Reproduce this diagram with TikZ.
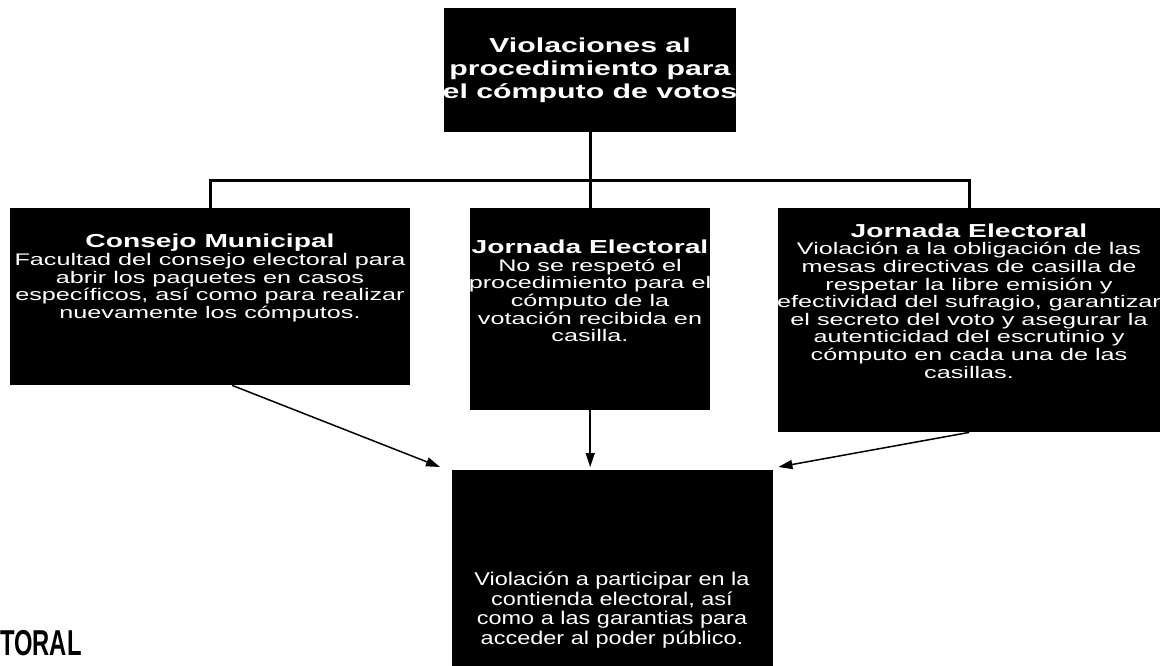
\documentclass[tikz,border=0pt]{standalone}
\usepackage{fontspec}
\setmainfont{Liberation Sans}
\newfontfamily\boxfont[FakeStretch=1.5]{Liberation Sans}
\newfontfamily\narrowfont[FakeStretch=1.27]{Liberation Sans}
\newfontfamily\stampfont[FakeStretch=0.66]{Liberation Sans}
\usetikzlibrary{arrows.meta, positioning, calc}

\begin{document}
\begin{tikzpicture}[
  x=1pt, y=-1pt,
  blackbox/.style={fill=black, inner sep=0pt, anchor=north west},
  headtext/.style={text=white, align=center, inner sep=0pt,
                   font=\boxfont\bfseries\fontsize{20.2}{23}\selectfont},
  bodytext/.style={text=white, align=center, inner sep=0pt,
                   font=\boxfont\fontsize{16.8}{17.6}\selectfont},
  tree/.style={line width=3pt},
  arrow/.style={-{Triangle[length=14pt,width=9pt]}, line width=1.5pt},
]
\useasboundingbox (0,0) rectangle (1164,666);

% boxes
\node[blackbox, minimum width=292pt, minimum height=124pt] (viol) at (444,8) {};
\node[blackbox, minimum width=400pt, minimum height=177pt] (consejo) at (10,208) {};
\node[blackbox, minimum width=240pt, minimum height=202pt] (jornadaA) at (470,208) {};
\node[blackbox, minimum width=382pt, minimum height=224pt] (jornadaB) at (778,208) {};
\node[blackbox, minimum width=321pt, minimum height=196pt] (contienda) at (452,470) {};

% texts
\node[headtext] (violtext) at (590,70) {Violaciones al\\procedimiento para\\el cómputo de votos};
\node[bodytext] (consejotext) at (210,278)
  {{\bfseries\fontsize{18.8}{22}\selectfont Consejo Municipal}\\
   Facultad del consejo electoral para\\abrir los paquetes en casos\\
   específicos, así como para realizar\\nuevamente los cómputos.};
\node[bodytext] (jornadaAtext) at (590,291)
  {{\bfseries\fontsize{18.8}{22}\selectfont Jornada Electoral}\\
   No se respetó el\\procedimiento para el\\cómputo de la\\
   votación recibida en\\casilla.};
\node[bodytext] (jornadaBtext) at (969,301)
  {{\bfseries\fontsize{18.8}{22}\selectfont Jornada Electoral}\\
   Violación a la obligación de las\\mesas directivas de casilla de\\
   respetar la libre emisión y\\efectividad del sufragio, garantizar\\
   el secreto del voto y asegurar la\\autenticidad del escrutinio y\\
   cómputo en cada una de las\\casillas.};
\node[bodytext, font=\narrowfont\fontsize{18.5}{19.5}\selectfont] (contiendatext) at (612,610)
  {Violación a participar en la\\contienda electoral, así\\
   como a las garantias para\\acceder al poder público.};

\node[anchor=south west, inner sep=0pt,
      font=\stampfont\bfseries\fontsize{36}{36}\selectfont] (toral) at (0,656) {TORAL};

% connectors
\coordinate (split) at (590,180);
\draw[tree] (viol.south) -- (jornadaA.north);
\draw[tree] (consejo.north) |- (split) -| (jornadaB.north);
\draw[arrow] ($(consejo.south)+(22,0)$) -- ($(contienda.north west)+(-12,-3)$);
\draw[arrow] (jornadaA.south) -- ($(jornadaA.south |- contienda.north)+(0,-3)$);
\draw[arrow] (jornadaB.south) -- ($(contienda.north east)+(5,-3)$);
\end{tikzpicture}
\end{document}
